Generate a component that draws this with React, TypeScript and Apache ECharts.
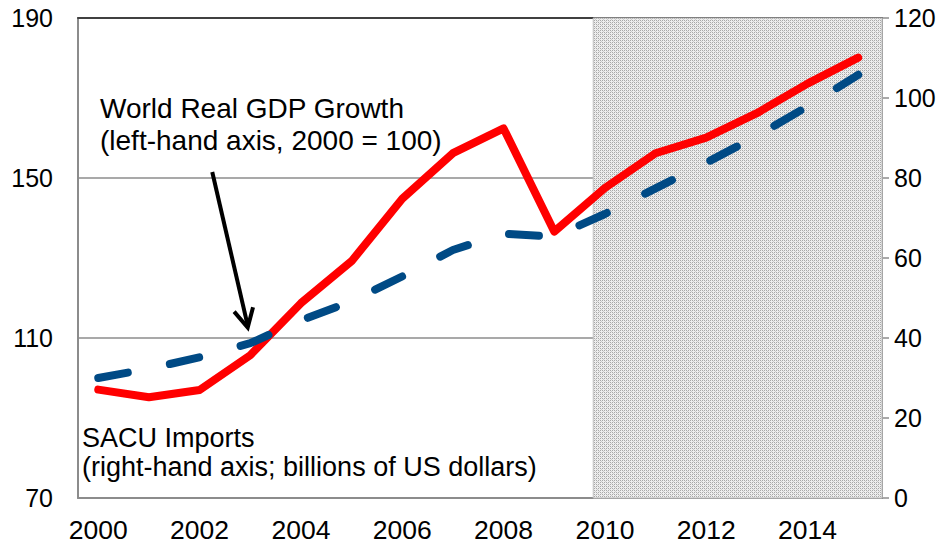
import React, { useEffect, useRef } from "react";
import * as echarts from "echarts";

const years = [2000, 2001, 2002, 2003, 2004, 2005, 2006, 2007, 2008, 2009, 2010, 2011, 2012, 2013, 2014, 2015];
const worldGdp = [100, 102.3, 105.2, 108.7, 114.4, 119.2, 125.4, 132, 136.1, 135.3, 141, 147.4, 153.8, 160.5, 167.9, 175.8];
const sacuImports = [27.1, 25.2, 27, 35.7, 48.7, 59.2, 74.8, 86.2, 92.4, 66.6, 77.5, 86.2, 90.1, 96.2, 103.6, 110.1];
const xTickLabels = [2000, 2002, 2004, 2006, 2008, 2010, 2012, 2014];
const projectionStart = 2009.77;
const xMin = 1999.6;
const xMax = 2015.47;
const arrowFrom = [2002.25, 151.5];
const arrowTo = [2002.95, 112.6];

function makePattern(): HTMLCanvasElement {
  const c = document.createElement("canvas");
  c.width = 4;
  c.height = 4;
  const ctx = c.getContext("2d")!;
  ctx.fillStyle = "#eeeeee";
  ctx.fillRect(0, 0, 4, 4);
  ctx.fillStyle = "#a8a8a8";
  ctx.fillRect(0, 0, 1, 1);
  ctx.fillRect(2, 2, 1, 1);
  ctx.fillRect(2, 0, 1, 1);
  ctx.fillRect(0, 2, 1, 1);
  ctx.fillStyle = "#cccccc";
  ctx.fillRect(1, 1, 1, 1);
  ctx.fillRect(3, 3, 1, 1);
  return c;
}

export default function App() {
  const ref = useRef<HTMLDivElement>(null);
  useEffect(() => {
    if (!ref.current) return;
    const chart = echarts.init(ref.current, null, { renderer: "svg" });
    const font = "'Liberation Sans', Arial, sans-serif";
    const pattern = makePattern();
    const texts = [
      {
        id: "t1",
        type: "text",
        left: 100,
        top: 92,
        style: {
          text: "World Real GDP Growth\n(left-hand axis, 2000 = 100)",
          fontSize: 28,
          lineHeight: 32,
          fontFamily: font,
          fill: "#000",
        },
      },
      {
        id: "t2",
        type: "text",
        left: 82,
        top: 423,
        style: {
          text: "SACU Imports\n(right-hand axis; billions of US dollars)",
          fontSize: 27,
          lineHeight: 29.5,
          fontFamily: font,
          fill: "#000",
        },
      },
      {
        id: "t3",
        type: "text",
        left: 671,
        top: 30,
        style: { text: "Projections", fontSize: 28, fontFamily: font, fill: "#000" },
      },
    ];
    chart.setOption({
      animation: false,
      backgroundColor: "#ffffff",
      textStyle: { fontFamily: font },
      grid: {
        left: 78,
        right: 69,
        top: 18,
        bottom: 50,
        show: true,
        borderColor: "#8c8c8c",
        borderWidth: 1,
      },
      xAxis: [
        {
          type: "value",
          min: xMin,
          max: xMax,
          axisLine: { show: true, lineStyle: { color: "#8c8c8c", width: 2 } },
          axisTick: { show: false },
          splitLine: { show: false },
          axisLabel: {
            customValues: xTickLabels,
            color: "#000",
            fontSize: 26.5,
            fontFamily: font,
            margin: 18,
            formatter: (v: number) => String(Math.round(v)),
          },
        },
        {
          type: "value",
          position: "top",
          min: xMin,
          max: xMax,
          axisLine: { show: true, lineStyle: { color: "#404040", width: 2 } },
          axisTick: { show: false },
          axisLabel: { show: false },
          splitLine: { show: false },
        },
      ],
      yAxis: [
        {
          type: "value",
          min: 70,
          max: 190,
          interval: 40,
          position: "left",
          axisLine: { show: true, lineStyle: { color: "#8c8c8c", width: 2 } },
          axisTick: { show: false },
          splitLine: { show: true, lineStyle: { color: "#8c8c8c", width: 1.5 } },
          axisLabel: { color: "#000", fontSize: 25, fontFamily: font, margin: 25 },
        },
        {
          type: "value",
          min: 0,
          max: 120,
          interval: 20,
          position: "right",
          axisLine: { show: true, lineStyle: { color: "#8c8c8c", width: 2 } },
          axisTick: { show: true, inside: false, length: 7, lineStyle: { color: "#8c8c8c", width: 1.5 } },
          splitLine: { show: false },
          axisLabel: { color: "#000", fontSize: 25, fontFamily: font, margin: 12 },
        },
      ],
      series: [
        {
          type: "line",
          name: "SACU Imports",
          xAxisIndex: 0,
          yAxisIndex: 1,
          data: years.map((y, i) => [y, sacuImports[i]]),
          symbol: "none",
          lineStyle: { color: "#ff0000", width: 8, cap: "round", join: "round" },
          z: 3,
          markArea: {
            silent: true,
            itemStyle: {
              color: { image: pattern, repeat: "repeat" },
              borderColor: "#c0c0c0",
              borderWidth: 1,
            },
            data: [[{ xAxis: projectionStart, yAxis: 0 }, { xAxis: xMax, yAxis: 120 }]],
          },
        },
        {
          type: "line",
          name: "World Real GDP Growth",
          xAxisIndex: 0,
          yAxisIndex: 0,
          data: years.map((y, i) => [y, worldGdp[i]]),
          symbol: "none",
          lineStyle: { color: "#004a85", width: 8, type: [30, 43], cap: "round", join: "round" },
          z: 4,
        },
      ],
      graphic: texts,
    });

    // Arrow annotation placed from data coordinates
    const p1 = chart.convertToPixel({ xAxisIndex: 0, yAxisIndex: 0 }, arrowFrom) as number[];
    const p2 = chart.convertToPixel({ xAxisIndex: 0, yAxisIndex: 0 }, arrowTo) as number[];
    if (p1 && p2) {
      const ang = Math.atan2(p2[1] - p1[1], p2[0] - p1[0]);
      const len = 21;
      const spread = 0.48;
      const a1 = [p2[0] - len * Math.cos(ang - spread), p2[1] - len * Math.sin(ang - spread)];
      const a2 = [p2[0] - len * Math.cos(ang + spread), p2[1] - len * Math.sin(ang + spread)];
      chart.setOption({
        graphic: [
          ...texts,
          {
            id: "arrowShaft",
            type: "line",
            z: 10,
            shape: { x1: p1[0], y1: p1[1], x2: p2[0], y2: p2[1] - 2 },
            style: { stroke: "#000", lineWidth: 4 },
          },
          {
            id: "arrowHead",
            type: "polyline",
            z: 10,
            shape: { points: [a1, p2, a2] },
            style: { stroke: "#000", lineWidth: 4, fill: "none", lineJoin: "miter" },
          },
        ],
      });
    }
    return () => chart.dispose();
  }, []);
  return (
    <div
      ref={ref}
      style={{ position: "fixed", left: 0, top: 0, width: 951, height: 548 }}
    />
  );
}
